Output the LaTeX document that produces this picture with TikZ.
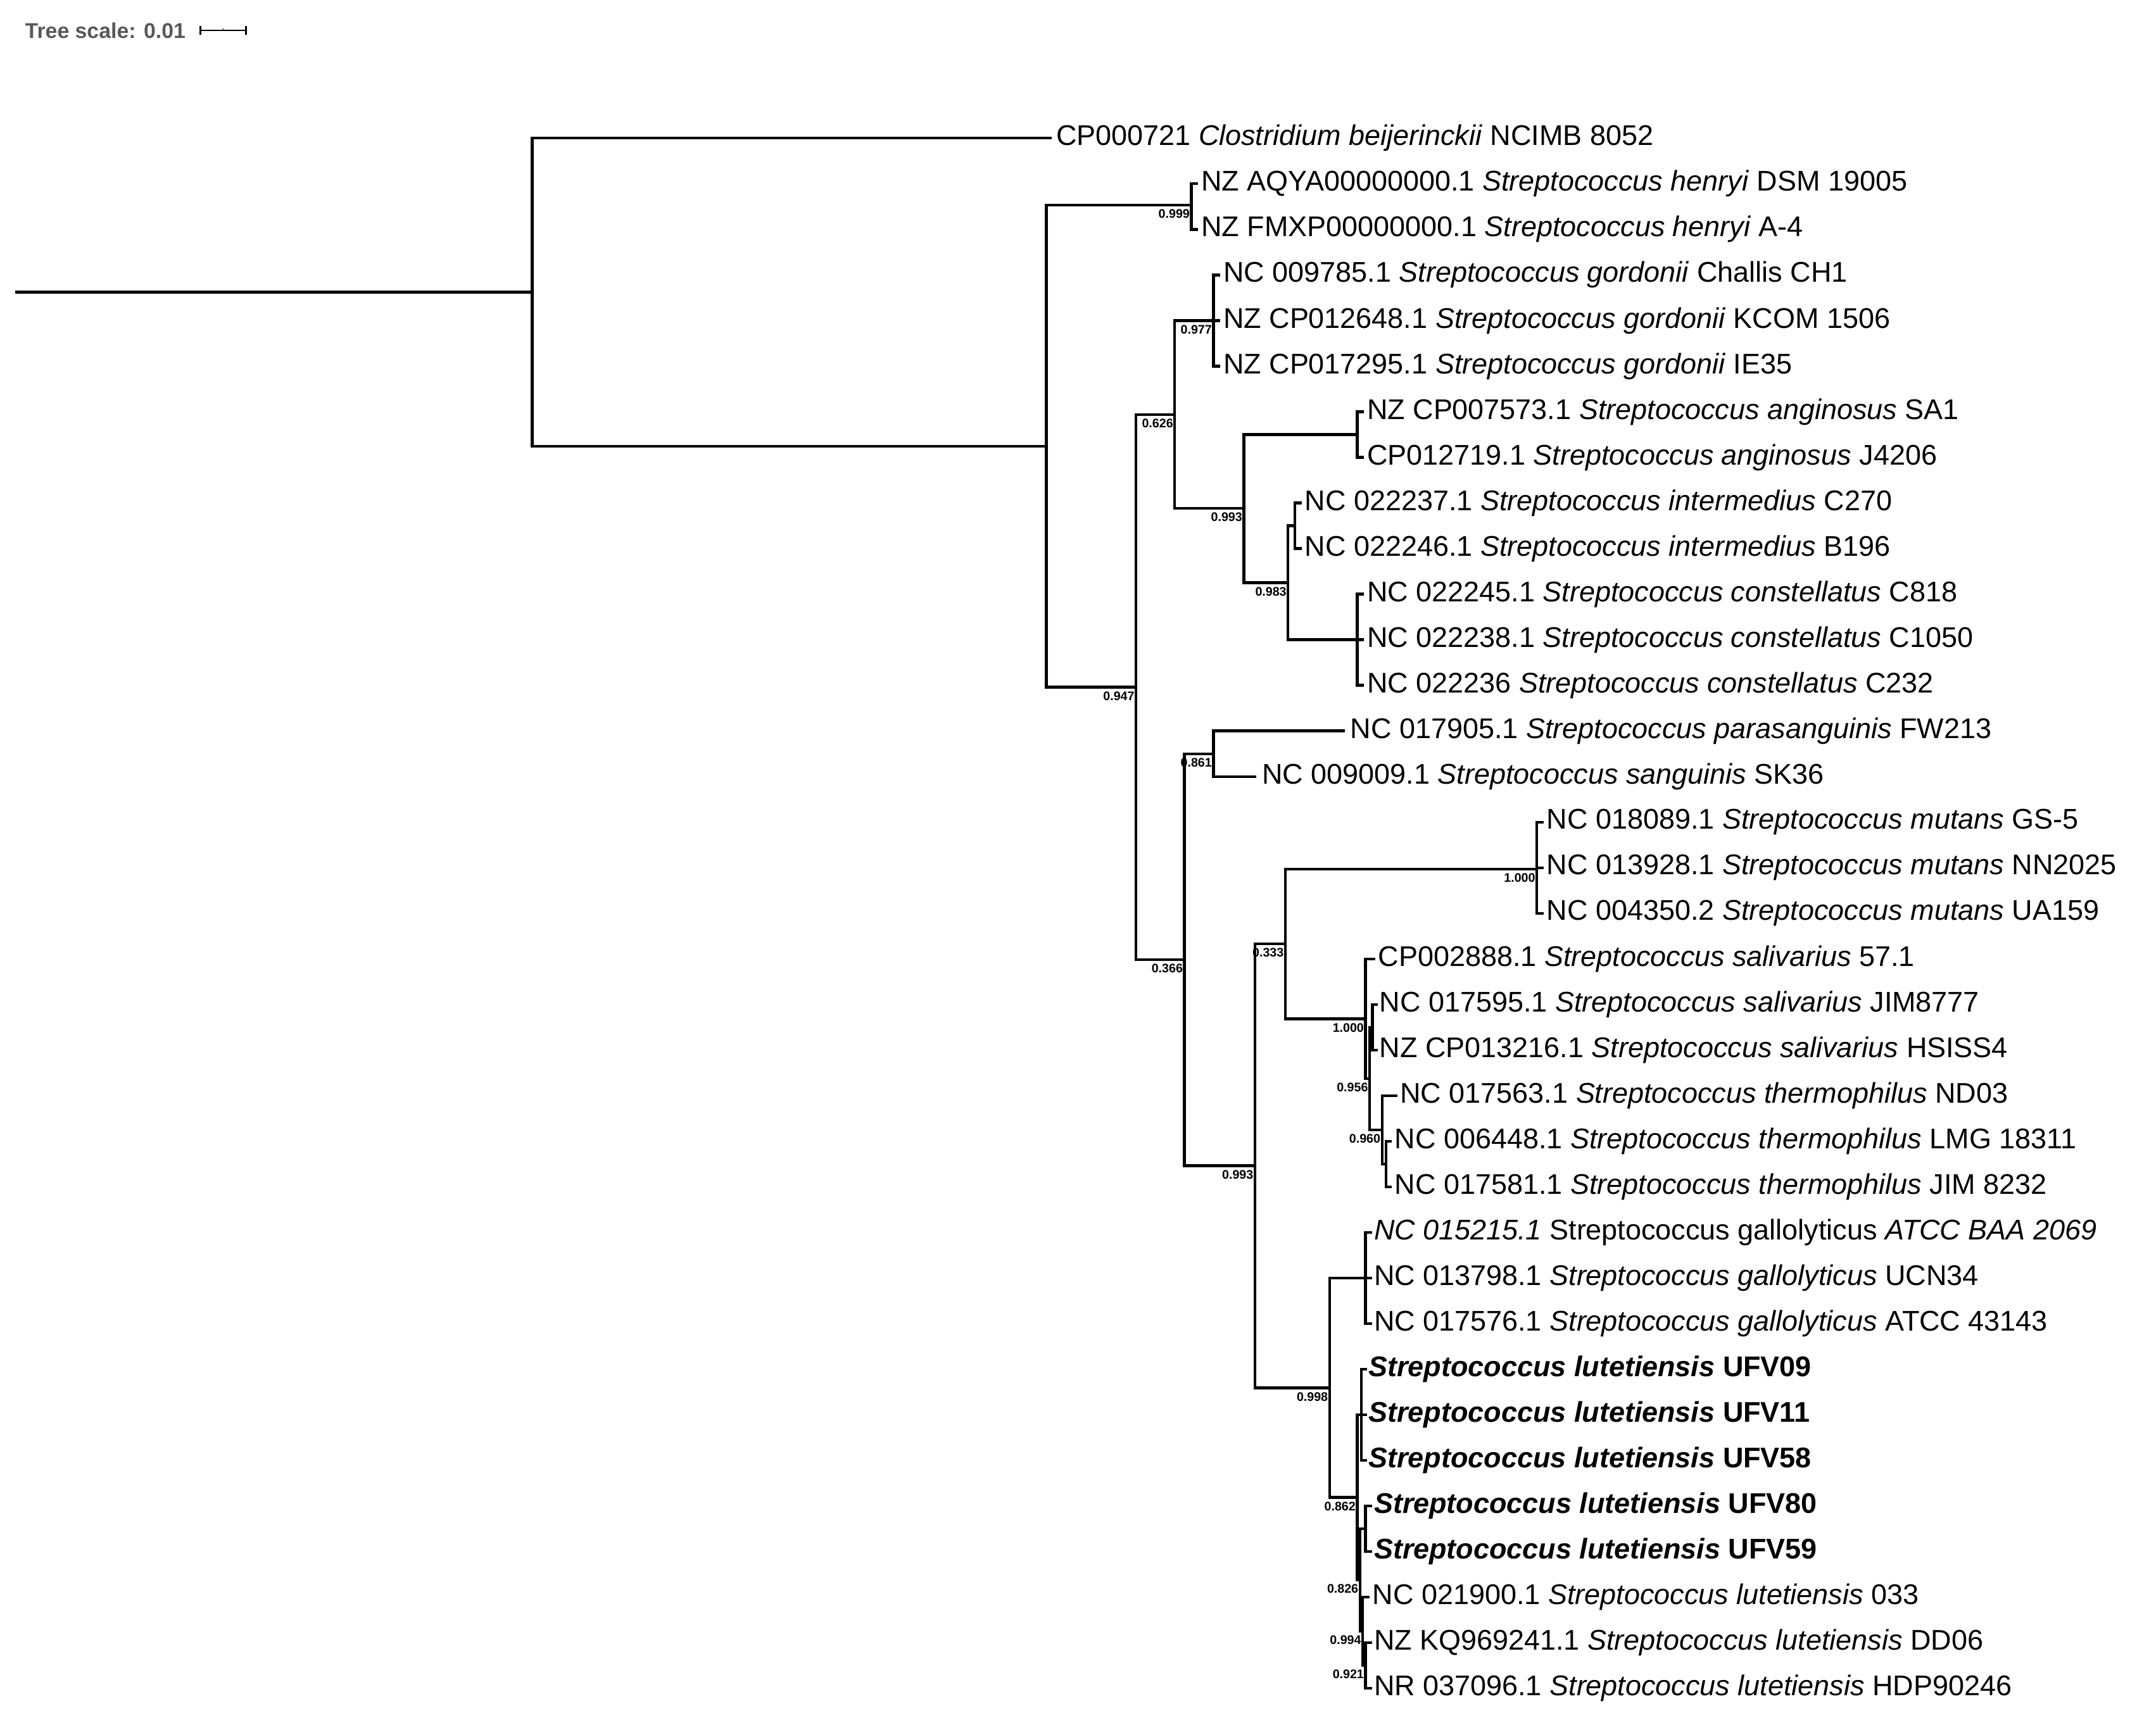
\documentclass[tikz,border=0pt]{standalone}
\usepackage{fontspec}
\setmainfont{Liberation Sans}
\usetikzlibrary{calc}
\begin{document}
\begin{tikzpicture}[x=1pt,y=-1pt,
  br/.style={line width=2pt,line cap=rect},
  lab/.style={anchor=west,inner sep=0pt,font=\fontsize{20.6}{24}\selectfont},
  bs/.style={anchor=north east,inner sep=0pt,font=\fontsize{9}{10}\selectfont\bfseries}]
\useasboundingbox (0,0) rectangle (1560,1243);
% leaves
\foreach \i/\x in {0/760,1/866,2/866,3/882,4/882,5/882,6/986,7/986,8/941,9/941,10/986,11/986,12/986,13/972,14/908,15/1116,16/1116,17/1116,18/994,19/996,20/996,21/1010,22/1006,23/1006,24/992,25/992,26/992,27/988,28/988,29/988,30/992,31/992,32/990,33/992,34/992}
  \coordinate (l\i) at (\x,100+33*\i);
% internal nodes
\coordinate (r0) at (12,211.5);
\coordinate (R) at (385,211.5);
\coordinate (A) at (757,322.9);
\coordinate (hen) at (862,148.5);
\coordinate (B) at (822,497.3);
\coordinate (C) at (850,300);
\coordinate (G) at (878,232);
\coordinate (D) at (900,368);
\coordinate (ang) at (982,314.5);
\coordinate (F) at (932,421.75);
\coordinate (int) at (937,380.5);
\coordinate (con) at (982,463);
\coordinate (E) at (857,694.6);
\coordinate (H) at (878,545.5);
\coordinate (I) at (908,843.7);
\coordinate (J) at (930,683);
\coordinate (M) at (1112,629);
\coordinate (S) at (988,737.3);
\coordinate (S2) at (991,780.6);
\coordinate (s19) at (993,743.5);
\coordinate (T) at (1000,817.75);
\coordinate (t22) at (1003,842.5);
\coordinate (K) at (962,1004.4);
\coordinate (Gal) at (988,925);
\coordinate (L) at (982,1083.8);
\coordinate (U1) at (985,1024);
\coordinate (L5) at (984,1143.6);
\coordinate (u30) at (988,1106.5);
\coordinate (L4) at (986,1180.75);
\coordinate (L3) at (988,1205.5);
% branches
\draw[br] (r0) -- (R);
\foreach \p/\c in {R/l0,R/A,A/hen,A/B,hen/l1,hen/l2,B/C,B/E,C/G,C/D,G/l3,G/l4,G/l5,D/ang,D/F,ang/l6,ang/l7,F/int,F/con,int/l8,int/l9,con/l10,con/l11,con/l12,E/H,E/I,H/l13,H/l14,I/J,I/K,J/M,J/S,M/l15,M/l16,M/l17,S/l18,S/S2,S2/s19,S2/T,s19/l19,s19/l20,T/l21,T/t22,t22/l22,t22/l23,K/Gal,K/L,Gal/l24,Gal/l25,Gal/l26,L/U1,L/L5,U1/l27,U1/l28,U1/l29,L5/u30,L5/L4,u30/l30,u30/l31,L4/l32,L4/L3,L3/l33,L3/l34}
  \draw[br] (\p) |- (\c);
% bootstrap values
\foreach \n/\v in {hen/0.999,G/0.977,C/0.626,D/0.993,F/0.983,B/0.947,H/0.861,E/0.366,M/1.000,J/0.333,S/1.000,S2/0.956,T/0.960,I/0.993,K/0.998,L/0.862,L5/0.826,L4/0.994,L3/0.921}
  \node[bs] (bs\n) at ([xshift=-1pt,yshift=-3pt]\n) {\v};
% labels
\node[lab] (t0) at ([xshift=4pt]l0) {CP000721 \textit{Clostridium beijerinckii} NCIMB 8052};
\node[lab] (t1) at ([xshift=3pt]l1) {NZ AQYA00000000.1 \textit{Streptococcus henryi} DSM 19005};
\node[lab] (t2) at ([xshift=3pt]l2) {NZ FMXP00000000.1 \textit{Streptococcus henryi} A-4};
\node[lab] (t3) at ([xshift=3pt]l3) {NC 009785.1 \textit{Streptococcus gordonii} Challis CH1};
\node[lab] (t4) at ([xshift=3pt]l4) {NZ CP012648.1 \textit{Streptococcus gordonii} KCOM 1506};
\node[lab] (t5) at ([xshift=3pt]l5) {NZ CP017295.1 \textit{Streptococcus gordonii} IE35};
\node[lab] (t6) at ([xshift=3pt]l6) {NZ CP007573.1 \textit{Streptococcus anginosus} SA1};
\node[lab] (t7) at ([xshift=3pt]l7) {CP012719.1 \textit{Streptococcus anginosus} J4206};
\node[lab] (t8) at ([xshift=3pt]l8) {NC 022237.1 \textit{Streptococcus intermedius} C270};
\node[lab] (t9) at ([xshift=3pt]l9) {NC 022246.1 \textit{Streptococcus intermedius} B196};
\node[lab] (t10) at ([xshift=3pt]l10) {NC 022245.1 \textit{Streptococcus constellatus} C818};
\node[lab] (t11) at ([xshift=3pt]l11) {NC 022238.1 \textit{Streptococcus constellatus} C1050};
\node[lab] (t12) at ([xshift=3pt]l12) {NC 022236 \textit{Streptococcus constellatus} C232};
\node[lab] (t13) at ([xshift=5pt]l13) {NC 017905.1 \textit{Streptococcus parasanguinis} FW213};
\node[lab] (t14) at ([xshift=5pt]l14) {NC 009009.1 \textit{Streptococcus sanguinis} SK36};
\node[lab] (t15) at ([xshift=3pt]l15) {NC 018089.1 \textit{Streptococcus mutans} GS-5};
\node[lab] (t16) at ([xshift=3pt]l16) {NC 013928.1 \textit{Streptococcus mutans} NN2025};
\node[lab] (t17) at ([xshift=3pt]l17) {NC 004350.2 \textit{Streptococcus mutans} UA159};
\node[lab] (t18) at ([xshift=3pt]l18) {CP002888.1 \textit{Streptococcus salivarius} 57.1};
\node[lab] (t19) at ([xshift=2pt]l19) {NC 017595.1 \textit{Streptococcus salivarius} JIM8777};
\node[lab] (t20) at ([xshift=2pt]l20) {NZ CP013216.1 \textit{Streptococcus salivarius} HSISS4};
\node[lab] (t21) at ([xshift=3pt]l21) {NC 017563.1 \textit{Streptococcus thermophilus} ND03};
\node[lab] (t22) at ([xshift=3pt]l22) {NC 006448.1 \textit{Streptococcus thermophilus} LMG 18311};
\node[lab] (t23) at ([xshift=3pt]l23) {NC 017581.1 \textit{Streptococcus thermophilus} JIM 8232};
\node[lab] (t24) at ([xshift=2pt]l24) {\textit{NC 015215.1} Streptococcus gallolyticus \textit{ATCC BAA 2069}};
\node[lab] (t25) at ([xshift=2pt]l25) {NC 013798.1 \textit{Streptococcus gallolyticus} UCN34};
\node[lab] (t26) at ([xshift=2pt]l26) {NC 017576.1 \textit{Streptococcus gallolyticus} ATCC 43143};
\node[lab] (t27) at ([xshift=2pt]l27) {\textbf{\textit{Streptococcus lutetiensis} UFV09}};
\node[lab] (t28) at ([xshift=2pt]l28) {\textbf{\textit{Streptococcus lutetiensis} UFV11}};
\node[lab] (t29) at ([xshift=2pt]l29) {\textbf{\textit{Streptococcus lutetiensis} UFV58}};
\node[lab] (t30) at ([xshift=2pt]l30) {\textbf{\textit{Streptococcus lutetiensis} UFV80}};
\node[lab] (t31) at ([xshift=2pt]l31) {\textbf{\textit{Streptococcus lutetiensis} UFV59}};
\node[lab] (t32) at ([xshift=3pt]l32) {NC 021900.1 \textit{Streptococcus lutetiensis} 033};
\node[lab] (t33) at ([xshift=2pt]l33) {NZ KQ969241.1 \textit{Streptococcus lutetiensis} DD06};
\node[lab] (t34) at ([xshift=2pt]l34) {NR 037096.1 \textit{Streptococcus lutetiensis} HDP90246};
% scale bar
\node[anchor=west,inner sep=0pt,text=black!65,font=\fontsize{15.5}{17}\selectfont\bfseries] (ts) at (18,22) {Tree scale: 0.01};
\coordinate (sb1) at (145,22);
\coordinate (sb2) at (178,22);
\draw[line width=1.2pt] (sb1) -- (sb2);
\draw[line width=1.5pt] ([yshift=-3pt]sb1) -- ([yshift=3pt]sb1) ([yshift=-3pt]sb2) -- ([yshift=3pt]sb2);
\draw[line width=0.8pt] ($(sb1)!0.5!(sb2)$) -- ++(0,-1.5);
\end{tikzpicture}
\end{document}
